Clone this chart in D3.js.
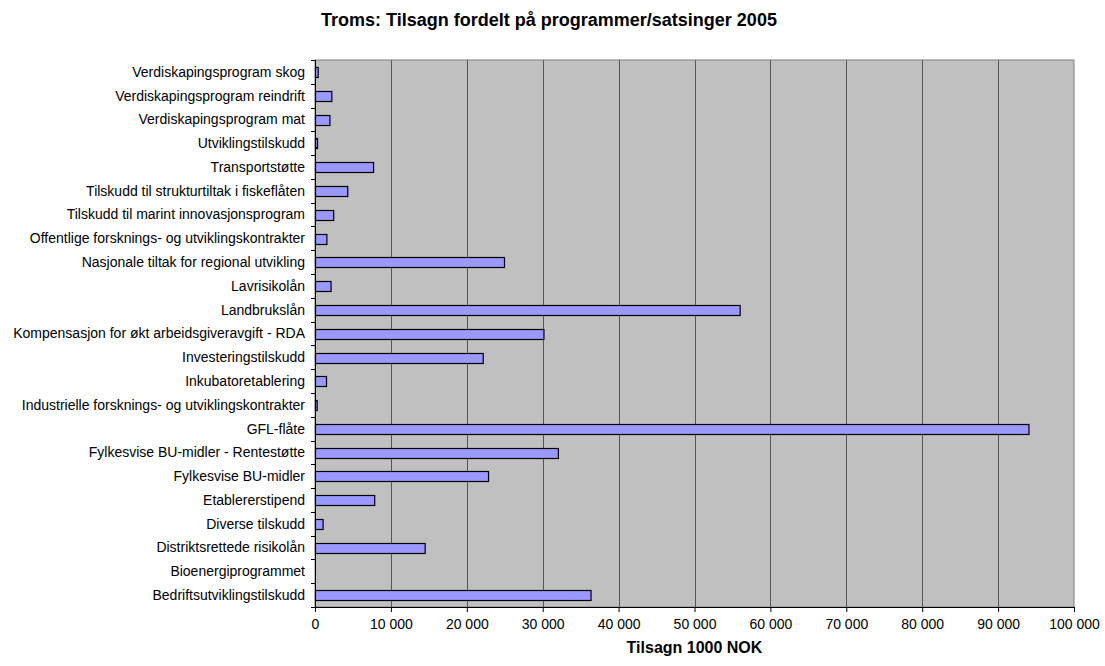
<!DOCTYPE html>
<html>
<head>
<meta charset="utf-8">
<script src="https://cdn.jsdelivr.net/npm/d3@7"></script>
<style>
  body { margin: 0; background: #fff; }
  text { font-family: Arial, "Liberation Sans", sans-serif; }
</style>
</head>
<body>
<svg id="chart" width="1105" height="666"></svg>
<script>
// categories listed bottom -> top, as in the source sheet
const categories = [
  'Bedriftsutviklingstilskudd',
  'Bioenergiprogrammet',
  'Distriktsrettede risikolån',
  'Diverse tilskudd',
  'Etablererstipend',
  'Fylkesvise BU-midler',
  'Fylkesvise BU-midler - Rentestøtte',
  'GFL-flåte',
  'Industrielle forsknings- og utviklingskontrakter',
  'Inkubatoretablering',
  'Investeringstilskudd',
  'Kompensasjon for økt arbeidsgiveravgift - RDA',
  'Landbrukslån',
  'Lavrisikolån',
  'Nasjonale tiltak for regional utvikling',
  'Offentlige forsknings- og utviklingskontrakter',
  'Tilskudd til marint innovasjonsprogram',
  'Tilskudd til strukturtiltak i fiskeflåten',
  'Transportstøtte',
  'Utviklingstilskudd',
  'Verdiskapingsprogram mat',
  'Verdiskapingsprogram reindrift',
  'Verdiskapingsprogram skog'
]
const values = [
  36300, 0, 14450, 1000, 7800, 22800, 32000, 94000, 220, 1450,
  22100, 30100, 55950, 2050, 24900, 1500, 2400, 4250, 7650, 270,
  1900, 2150, 350
]
const xTicks = [0, 10000, 20000, 30000, 40000, 50000, 60000, 70000, 80000, 90000, 100000]

const title = 'Troms: Tilsagn fordelt på programmer/satsinger 2005'
const xTitle = 'Tilsagn 1000 NOK'

const margin = { top: 60, right: 31, bottom: 59, left: 315 }
const width = 1105 - margin.left - margin.right
const height = 666 - margin.top - margin.bottom

const svg = d3.select('#chart')
const g = svg.append('g').attr('transform', `translate(${margin.left},${margin.top})`)

const x = d3.scaleLinear().domain([0, 100000]).range([0, width])
const y = d3.scaleBand()
    .domain(categories.slice().reverse())
    .range([0, height])
    .paddingInner(0.6)
    .paddingOuter(0.3)

const fmt = v => d3.format(',')(v).replace(/,/g, ' ')

// plot background
g.append('rect')
    .attr('width', width)
    .attr('height', height)
    .attr('fill', '#c0c0c0')
    .attr('stroke', '#808080')

// gridlines
g.selectAll('line.grid')
    .data(xTicks.slice(1, -1))
    .enter()
    .append('line')
    .attr('class', 'grid')
    .attr('x1', d => Math.round(x(d)) + 0.5)
    .attr('x2', d => Math.round(x(d)) + 0.5)
    .attr('y1', 0)
    .attr('y2', height)
    .attr('stroke', '#555')
    .attr('stroke-width', 1)

// bars
g.selectAll('rect.bar')
    .data(categories)
    .enter()
    .append('rect')
    .attr('class', 'bar')
    .attr('x', 0.5)
    .attr('y', d => Math.round(y(d)) + 0.5)
    .attr('width', (d, i) => Math.max(0, x(values[i])))
    .attr('height', Math.round(y.bandwidth()))
    .attr('fill', '#9999ff')
    .attr('stroke', (d, i) => values[i] > 0 ? '#000' : 'none')
    .attr('stroke-width', 1.2)

// y axis line + ticks at category boundaries
const step = height / categories.length
g.append('line')
    .attr('x1', 0.5).attr('x2', 0.5)
    .attr('y1', 0).attr('y2', height)
    .attr('stroke', '#000')
g.selectAll('line.ytick')
    .data(d3.range(categories.length + 1))
    .enter()
    .append('line')
    .attr('class', 'ytick')
    .attr('x1', -4).attr('x2', 0.5)
    .attr('y1', i => Math.round(i * step) + 0.5)
    .attr('y2', i => Math.round(i * step) + 0.5)
    .attr('stroke', '#000')

// y labels
g.selectAll('text.ylab')
    .data(categories)
    .enter()
    .append('text')
    .attr('class', 'ylab')
    .attr('x', -10)
    .attr('y', d => y(d) + y.bandwidth() / 2)
    .attr('dy', '0.35em')
    .attr('text-anchor', 'end')
    .attr('font-size', 14)
    .attr('fill', '#000')
    .text(d => d)

// x axis
const xAxis = g.append('g')
    .attr('transform', `translate(0,${height})`)
    .call(d3.axisBottom(x).tickValues(xTicks).tickSize(5).tickSizeOuter(0).tickFormat(fmt))
xAxis.select('.domain').attr('stroke', '#000')
xAxis.selectAll('.tick line').attr('stroke', '#000')
xAxis.selectAll('.tick text')
    .attr('font-size', 14)
    .attr('font-family', 'Arial, "Liberation Sans", sans-serif')
    .attr('fill', '#000')
    .attr('y', 12)
    .attr('dy', '0.71em')

// titles
svg.append('text')
    .attr('x', 549)
    .attr('y', 26)
    .attr('text-anchor', 'middle')
    .attr('font-size', 18)
    .attr('font-weight', 'bold')
    .text(title)

svg.append('text')
    .attr('x', margin.left + width / 2)
    .attr('y', 653)
    .attr('text-anchor', 'middle')
    .attr('font-size', 16)
    .attr('font-weight', 'bold')
    .text(xTitle)
</script>
</body>
</html>
